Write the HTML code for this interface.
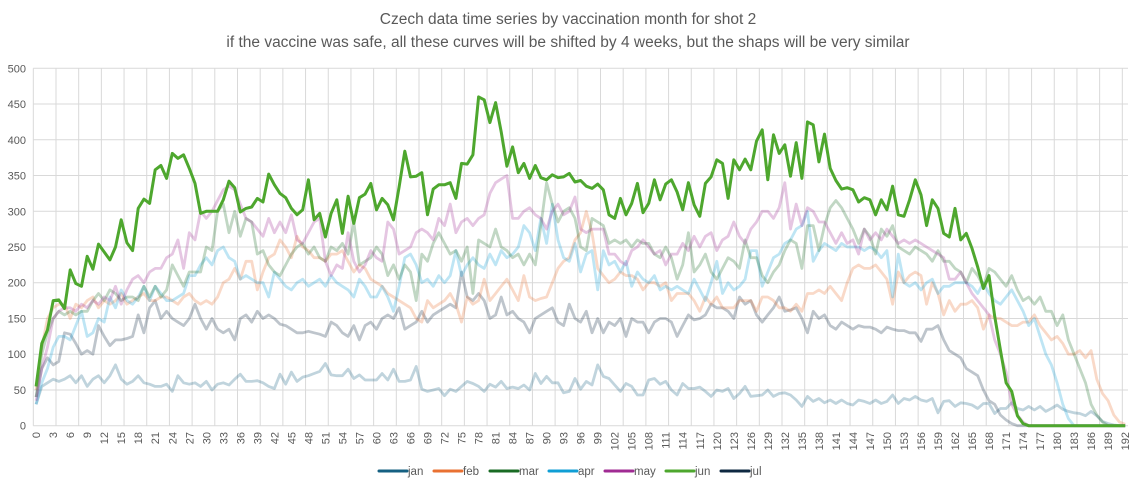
<!DOCTYPE html>
<html><head><meta charset="utf-8"><style>
body{margin:0;background:#fff;width:1136px;height:485px;overflow:hidden;font-family:"Liberation Sans",sans-serif}
svg text{font-family:"Liberation Sans",sans-serif;fill:#595959}
</style></head><body>
<svg id="chart" width="1136" height="485" viewBox="0 0 1136 485">
<text x="568" y="24" text-anchor="middle" font-size="15.5">Czech data time series by vaccination month for shot 2</text>
<text x="568" y="47" text-anchor="middle" font-size="15.5">if the vaccine was safe, all these curves will be shifted by 4 weeks, but the shaps will be very similar</text>
<g id="grid"></g>
<g id="yt"></g>
<g id="xt"></g>
<g id="series"></g>
<g id="legend"></g>
</svg>
<script>
const yTicks=[0,50,100,150,200,250,300,350,400,450,500];
const seriesNames=["jan","feb","mar","apr","may","jun","jul"];
const jan=[30,55,60,65,62,65,70,60,70,55,65,70,60,70,85,65,58,62,70,60,58,55,55,58,48,70,60,58,60,55,62,50,58,60,57,65,72,62,62,63,60,55,52,72,58,75,62,68,70,73,76,87,71,70,70,79,66,71,64,64,64,73,64,79,62,62,64,83,51,48,50,52,42,51,48,55,62,59,55,48,58,54,62,52,54,52,57,50,73,59,69,60,60,46,48,66,51,62,57,85,69,66,57,48,59,55,43,43,64,66,58,62,50,43,59,52,52,54,48,41,50,48,52,38,45,55,41,42,43,50,41,45,46,43,36,27,41,34,38,32,36,31,36,31,29,36,34,31,36,31,34,43,31,38,36,41,36,34,38,18,34,35,27,32,31,29,24,31,31,17,24,24,32,24,22,27,22,27,20,24,29,23,20,18,17,14,20,14,6,3,1,0,0];
const feb=[50,110,150,165,170,170,150,170,165,175,180,165,175,170,175,185,170,175,180,185,175,175,180,180,175,170,180,185,175,170,175,170,180,200,205,220,205,230,230,190,215,235,240,260,250,235,265,250,245,235,235,230,240,240,245,230,215,225,220,205,200,195,185,180,175,170,165,150,145,175,165,170,175,185,170,145,180,170,175,205,175,185,195,205,190,175,210,180,175,178,180,200,220,230,235,260,270,300,270,220,210,200,205,215,210,210,205,190,200,200,195,200,175,185,185,185,175,160,180,170,180,165,165,165,175,175,175,160,180,180,175,165,165,160,170,160,185,185,190,185,195,185,175,200,220,225,220,220,225,215,205,170,215,200,210,215,210,170,200,185,155,175,160,170,170,175,165,135,155,150,150,145,140,140,145,145,155,140,130,120,125,115,100,100,105,95,105,65,45,35,15,5,2];
const mar=[40,100,130,150,160,155,160,155,160,160,175,185,175,190,185,175,180,180,175,195,180,195,180,190,225,210,195,215,215,215,250,245,300,310,270,300,265,290,285,240,245,225,215,210,225,240,250,255,240,250,235,230,250,245,255,240,285,225,230,235,250,240,210,225,205,225,215,175,240,230,255,270,255,240,245,230,250,185,260,255,250,275,250,245,235,240,225,240,225,280,340,310,285,300,305,290,250,245,290,285,280,255,260,255,260,250,260,255,255,240,235,250,235,205,225,270,215,225,240,215,205,220,235,230,220,260,235,235,210,200,215,225,245,260,255,220,280,280,245,280,305,315,305,290,275,255,275,265,240,275,265,280,250,245,240,250,245,240,230,245,230,230,220,215,200,220,210,195,220,215,205,195,210,190,175,180,170,180,160,160,140,155,120,100,80,60,30,15,5,0,0,0,0];
const apr=[30,60,80,110,125,125,120,140,160,125,130,150,145,180,165,190,175,170,180,195,175,195,185,175,175,180,185,210,210,225,235,225,245,250,235,230,205,210,205,200,200,180,215,205,195,190,200,205,195,200,205,195,210,200,195,190,180,205,195,180,180,195,180,160,195,235,240,225,200,205,195,210,200,210,245,210,225,235,225,220,240,225,245,235,240,250,280,270,245,290,255,310,260,235,230,255,215,240,245,190,245,225,230,215,230,195,215,205,200,210,190,195,190,195,190,185,205,190,175,200,230,185,200,190,195,205,245,245,195,215,235,240,255,260,275,280,300,230,245,255,250,245,255,250,250,250,245,250,245,235,245,180,240,200,195,200,190,200,205,185,195,195,200,200,200,195,185,200,185,175,170,180,190,175,160,140,150,125,100,85,60,30,10,0,0,0,0,0,0,0,0,0,0];
const may=[35,80,110,150,160,165,165,160,170,165,175,170,180,175,195,170,190,205,210,200,215,220,220,235,240,260,220,270,260,300,290,300,315,330,335,330,310,290,285,275,265,290,270,285,270,295,260,255,270,285,290,230,210,225,220,270,230,215,225,245,235,230,285,275,240,245,250,270,275,270,260,290,280,310,270,285,290,280,290,295,325,340,345,350,290,290,300,305,295,290,275,300,310,295,300,320,275,270,275,275,275,240,240,230,225,245,250,260,250,240,245,225,240,240,255,245,265,250,265,270,245,260,265,285,265,255,275,285,300,300,290,305,340,275,310,280,305,300,285,285,270,255,270,255,260,240,275,260,270,260,275,265,255,260,255,260,255,250,245,240,235,205,205,215,200,185,175,165,155,120,100,75,30,15,5,0,0,0,0,0,0,0,0,0,0,0,0,0,0,0,0,0,0];
const jun=[55,115,134,175,176,164,218,199,195,237,219,254,243,232,250,288,256,245,304,317,311,358,364,346,381,374,379,360,339,297,300,300,300,316,342,333,299,304,306,318,313,352,337,325,319,304,295,302,344,288,297,264,297,316,269,321,283,319,324,339,302,318,309,288,334,384,348,349,354,295,331,337,337,340,318,367,366,379,460,456,424,452,411,363,390,354,367,346,364,347,344,351,347,348,353,341,343,335,332,338,330,295,290,318,295,311,339,298,311,344,316,338,344,327,302,340,309,293,339,348,372,367,318,372,358,373,358,398,414,344,407,381,393,349,396,346,425,421,369,408,360,343,331,333,330,313,319,316,295,316,302,335,295,293,316,344,323,280,316,304,269,264,304,260,269,248,222,192,210,153,106,60,48,14,3,0,0,0,0,0,0,0,0,0,0,0,0,0,0,0,0,0,0];
const jul=[40,80,95,85,90,130,128,115,100,105,100,140,125,112,120,120,122,125,155,130,165,175,150,160,150,145,140,150,170,150,135,150,135,130,135,120,150,155,145,160,150,155,150,142,140,135,130,130,132,130,128,125,145,140,130,125,140,120,140,145,135,150,155,150,165,135,140,145,160,145,155,160,165,170,165,215,180,175,185,175,150,155,180,155,160,150,145,130,150,155,160,165,145,140,170,150,145,160,130,150,130,145,140,150,125,150,145,145,130,145,150,150,145,125,140,155,148,150,155,170,165,165,160,150,180,170,175,155,145,155,165,180,160,162,165,150,130,160,150,155,140,135,145,140,135,140,138,138,135,130,138,135,133,133,130,130,118,135,135,140,120,105,100,95,80,75,70,50,35,30,15,8,3,0,0,0,0,0,0,0,0,0,0,0,0,0,0,0,0,0,0,0,0];
const colors={jan:"#156082",feb:"#E97132",mar:"#196B24",apr:"#0F9ED5",may:"#A02B93",jun:"#4EA72E",jul:"#0E2841"};
const NS="http://www.w3.org/2000/svg";
const L=33.3,R=1128,T=68.3,B=425.7,N=193;
const unit=(R-L)/N;
function xPos(i){return L+(i+0.5)*unit;}
function yPos(v){return B-(v/500)*(B-T);}
function mk(tag,attrs,parent){const e=document.createElementNS(NS,tag);for(const k in attrs)e.setAttribute(k,attrs[k]);parent.appendChild(e);return e;}
const grid=document.getElementById('grid');
yTicks.forEach(v=>{
  const l=mk('line',{x1:L,x2:R,y1:yPos(v),y2:yPos(v),stroke:'#d9d9d9','stroke-width':1},grid);
  
  
  const t=mk('text',{x:26,y:yPos(v)+4,'text-anchor':'end','font-size':11},document.getElementById('yt'));
  t.textContent=v;
  
  
});
for(let i=0;i<=N;i+=4){
  const x=L+i*unit;
  const l=mk('line',{x1:x,x2:x,y1:T,y2:B,stroke:'#d9d9d9','stroke-width':1},grid);
  
  
}
for(let i=0;i<N;i+=3){
  const x=xPos(i)+4;
  const t=mk('text',{x:x,y:432,'text-anchor':'end','font-size':11,transform:`rotate(-90 ${x} 432)`},document.getElementById('xt'));
  t.textContent=i;
  
  
}
const data={jan,feb,mar,apr,may,jun,jul};
const order=["jan","jul","feb","apr","mar","may","jun"];
order.forEach(n=>{
  const d=data[n].map((v,i)=>(i?'L':'M')+xPos(i).toFixed(1)+' '+yPos(v).toFixed(1)).join(' ');
  const p=mk('path',{d:d,fill:'none',stroke:colors[n],'stroke-width':n==='jun'?3:2.8,'stroke-linejoin':'round','stroke-opacity':n==='jun'?1:0.27},document.getElementById('series'));
  
  
});
const legX=[379,434,490,549,605,666,721];
const lg=document.getElementById('legend');
seriesNames.forEach((n,k)=>{
  const g=mk('g',{},lg);
  
  
  mk('line',{x1:legX[k],x2:legX[k]+28,y1:471,y2:471,stroke:colors[n],'stroke-width':3,'stroke-linecap':'round'},g);
  const t=mk('text',{x:legX[k]+29,y:475,'font-size':11.5},g);
  t.textContent=n;
});
</script>
</body></html>
